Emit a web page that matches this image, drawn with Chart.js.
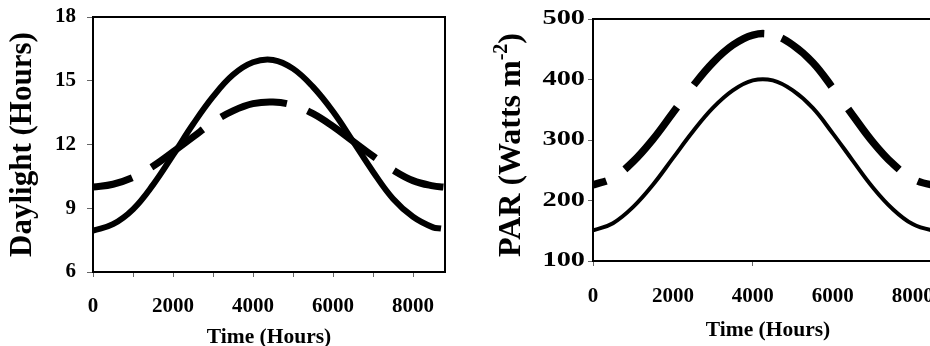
<!DOCTYPE html>
<html><head><meta charset="utf-8">
<script src="https://cdn.jsdelivr.net/npm/chart.js@4.4.1/dist/chart.umd.min.js"></script>
<style>
html,body{margin:0;padding:0;background:#fff;overflow:hidden;width:930px;height:346px;}
#wrap{position:relative;width:930px;height:346px;overflow:hidden;background:#fff;}
#c1{position:absolute;left:0;top:0;width:465px;height:346px;}
#c2{position:absolute;left:465px;top:0;width:495px;height:346px;}
</style></head><body>
<div id="wrap"><canvas id="c1" width="465" height="346"></canvas><canvas id="c2" width="495" height="346"></canvas></div>
<script>
// ---------- data ----------
const daylightSolidTime = [0,500,1000,1500,2000,2500,3000,3500,4000,4500,5000,5500,6000,6500,7000,7500,8000,8500,8700];
const daylightSolid     = [7.95,8.25,8.95,10.1,11.5,12.95,14.25,15.28,15.87,15.98,15.57,14.71,13.55,12.15,10.72,9.45,8.6,8.1,8.05];
const daylightDashTime  = [0,500,1000,1500,2000,2500,3000,3500,4000,4500,5000,5500,6000,6500,7000,7500,8000,8500,8760];
const daylightDash      = [10.0,10.13,10.45,10.98,11.65,12.35,13.05,13.58,13.92,14.0,13.85,13.45,12.85,12.15,11.45,10.8,10.3,10.05,10.0];

const parTime  = [0,500,1000,1500,2000,2500,3000,3500,4000,4500,5000,5500,6000,6500,7000,7500,8000,8500,8760];
const parSolid = [150.5,162.5,189,226,270,314,353,382,398.5,398.5,382,353,311,266,222,186,161,150.5,150.5];
const parDash  = [225.5,237.5,264,301,345,389,428,457,473.5,473.5,457,428,386,341,297,261,236,225.5,225.5];

const daylightYTicks = [6,9,12,15,18];
const parYTicks = [100,200,300,400,500];
const xTicksLeft = [0,1000,2000,3000,4000,5000,6000,7000,8000];
const xTicksRight = [0,2000,4000,6000,8000];

const leftXTitle = 'Time (Hours)';
const leftYTitle = 'Daylight (Hours)';
const rightXTitle = 'Time (Hours)';
const rightYTitleParts = ['PAR (Watts m', '-2', ')'];

// ---------- helpers ----------
const FAM = '"Liberation Serif", "Times New Roman", serif';
const pts = (xs, ys) => xs.map((x, i) => ({x, y: ys[i]}));
const noPad = s => { s.paddingTop = 0; s.paddingBottom = 0; s.paddingLeft = 0; s.paddingRight = 0; };

const frame = {
  id: 'frame',
  afterDatasetsDraw(chart) {
    const {ctx, chartArea: a} = chart;
    ctx.save();
    ctx.strokeStyle = '#000';
    ctx.lineWidth = 2;
    ctx.strokeRect(a.left, a.top, a.right - a.left, a.bottom - a.top);
    ctx.restore();
  }
};

const parTitle = {
  id: 'parTitle',
  afterDraw(chart) {
    const ctx = chart.ctx, a = chart.chartArea;
    const fonts = ['bold 32px ' + FAM, 'bold 20px ' + FAM, 'bold 32px ' + FAM];
    const dys = [0, -10, 0];
    ctx.save();
    ctx.fillStyle = '#000';
    ctx.textBaseline = 'middle';
    const widths = rightYTitleParts.map((t, i) => { ctx.font = fonts[i]; return ctx.measureText(t).width; });
    const total = widths.reduce((s, w) => s + w, 0);
    ctx.translate(47, (a.top + a.bottom) / 2 + 5);
    ctx.rotate(-Math.PI / 2);
    let x = -total / 2;
    rightYTitleParts.forEach((t, i) => {
      ctx.font = fonts[i];
      ctx.fillText(t, x, dys[i]);
      x += widths[i];
    });
    ctx.restore();
  }
};

// wide y tick labels of the right panel
const wideYLabels = {
  id: 'wideYLabels',
  afterDraw(chart) {
    const ctx = chart.ctx, s = chart.scales.y;
    ctx.save();
    ctx.fillStyle = '#000';
    ctx.font = 'bold 21px ' + FAM;
    ctx.textAlign = 'right';
    ctx.textBaseline = 'middle';
    parYTicks.forEach(v => {
      const y = s.getPixelForValue(v);
      ctx.save();
      ctx.translate(s.right - 8, y);
      ctx.scale(1.35, 1);
      ctx.fillText(String(v), 0, 0);
      ctx.restore();
    });
    ctx.restore();
  }
};

const tickFont = {family: FAM, size: 21, weight: 'bold'};

// ---------- left chart ----------
new Chart(document.getElementById('c1'), {
  type: 'line',
  data: {
    datasets: [
      {data: pts(daylightSolidTime, daylightSolid), borderColor: '#000', borderWidth: 6,
       tension: 0.4, pointRadius: 0, borderCapStyle: 'butt'},
      {data: pts(daylightDashTime, daylightDash), borderColor: '#000', borderWidth: 7,
       tension: 0.4, pointRadius: 0, borderDash: [40.6, 22, 63.8, 22, 68.8, 22, 82.9, 22, 300], borderDashOffset: 0,
       borderCapStyle: 'butt'}
    ]
  },
  options: {
    responsive: false, animation: false, devicePixelRatio: 1,
    layout: {padding: {left: 0, top: 17, right: 20, bottom: 0}},
    plugins: {legend: {display: false}, tooltip: {enabled: false}},
    scales: {
      x: {
        type: 'linear', min: 0, max: 8800,
        afterBuildTicks(s) { s.ticks = xTicksLeft.map(v => ({value: v})); },
        ticks: {callback: v => (v % 2000 === 0 ? String(v) : ''), maxRotation: 0, autoSkip: false,
                font: tickFont, color: '#000', padding: 17},
        grid: {drawOnChartArea: false, tickLength: 5, color: '#666', lineWidth: 1},
        border: {display: false},
        title: {display: true, text: leftXTitle, color: '#000',
                font: {family: FAM, size: 21.5, weight: 'bold', lineHeight: 0.8}, padding: {top: 0, bottom: 0}},
        afterFit(s) { s.height = 74; noPad(s); }
      },
      y: {
        type: 'linear', min: 6, max: 18,
        afterBuildTicks(s) { s.ticks = daylightYTicks.map(v => ({value: v})); },
        ticks: {font: tickFont, color: '#000', padding: 11},
        grid: {drawOnChartArea: false, tickLength: 6, color: '#666', lineWidth: 1},
        border: {display: false},
        title: {display: true, text: leftYTitle, color: '#000',
                font: {family: FAM, size: 31, weight: 'bold'}, padding: {top: 4, bottom: 0}},
        afterFit(s) { s.width = 93; noPad(s); }
      }
    }
  },
  plugins: [frame]
});

// ---------- right chart ----------
new Chart(document.getElementById('c2'), {
  type: 'line',
  data: {
    datasets: [
      {data: pts(parTime, parSolid), borderColor: '#000', borderWidth: 4,
       tension: 0.4, pointRadius: 0, borderCapStyle: 'butt'},
      {data: pts(parTime, parDash), borderColor: '#000', borderWidth: 7.5,
       tension: 0.4, pointRadius: 0, borderDash: [14, 22, 81, 28, 90.3, 18, 70.2, 28, 79.2, 22, 300], borderDashOffset: 0,
       borderCapStyle: 'butt'}
    ]
  },
  options: {
    responsive: false, animation: false, devicePixelRatio: 1,
    layout: {padding: {left: 0, top: 19, right: 17, bottom: 0}},
    plugins: {legend: {display: false}, tooltip: {enabled: false}},
    scales: {
      x: {
        type: 'linear', min: 0, max: 8760,
        afterBuildTicks(s) { s.ticks = xTicksRight.map(v => ({value: v})); },
        ticks: {maxRotation: 0, autoSkip: false, font: tickFont, color: '#000', padding: 18,
                callback: v => String(v)},
        grid: {drawOnChartArea: false, tickLength: 5, lineWidth: 1,
               color: c => (c.tick && (c.tick.value === 0 || c.tick.value === 4000)) ? '#666' : 'rgba(0,0,0,0)'},
        border: {display: false},
        title: {display: true, text: rightXTitle, color: '#000',
                font: {family: FAM, size: 21.5, weight: 'bold', lineHeight: 1}, padding: {top: 0, bottom: 4.5}},
        afterFit(s) { s.height = 85; noPad(s); }
      },
      y: {
        type: 'linear', min: 100, max: 500,
        afterBuildTicks(s) { s.ticks = parYTicks.map(v => ({value: v})); },
        ticks: {font: tickFont, color: 'rgba(0,0,0,0)', padding: 3},
        grid: {drawOnChartArea: false, tickLength: 5, color: '#666', lineWidth: 1},
        border: {display: false},
        title: {display: false},
        afterFit(s) { s.width = 128; noPad(s); }
      }
    }
  },
  plugins: [frame, parTitle, wideYLabels]
});
</script>
</body></html>
